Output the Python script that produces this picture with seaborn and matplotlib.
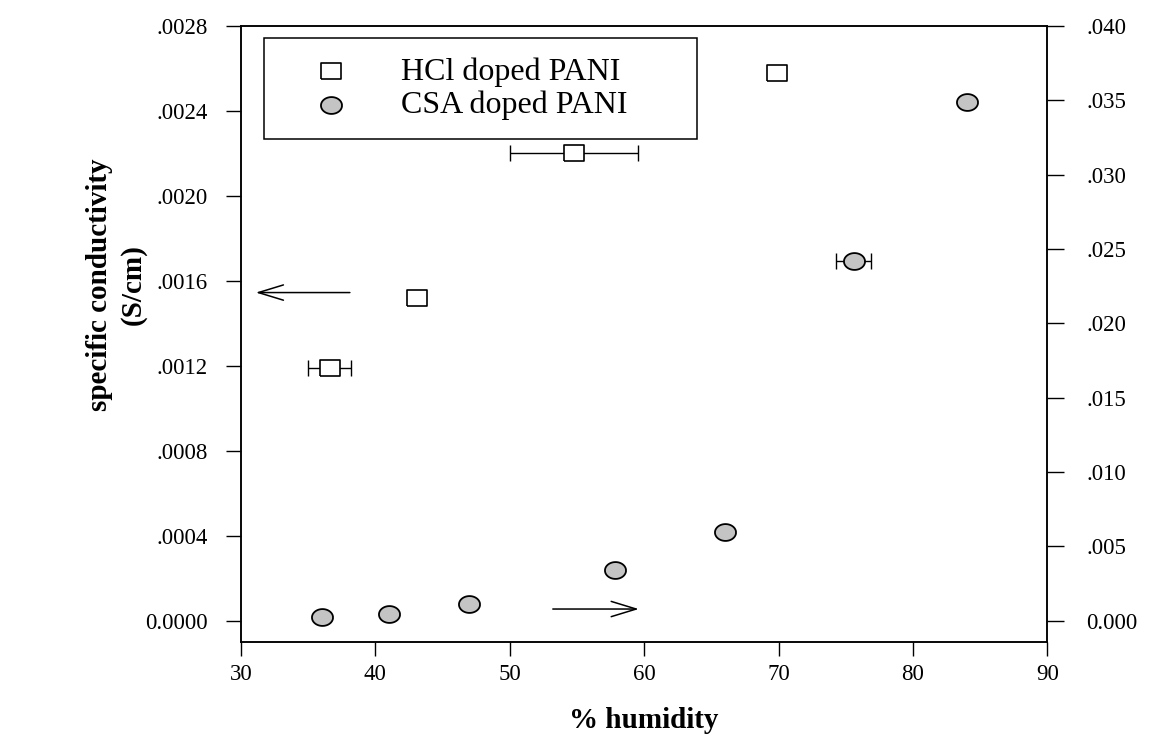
import numpy as np
import matplotlib
matplotlib.use('Agg')
import matplotlib.pyplot as plt
import seaborn as sns

# HCl doped PANI (left axis, S/cm)
hcl_humidity = [36.6, 43.1, 54.8, 69.9]
hcl_cond = [0.00119, 0.00152, 0.00220, 0.00258]
hcl_err = [1.6, 0.0, 4.75, 0.0]

# CSA doped PANI (right axis, S/cm)
csa_humidity = [36.0, 41.0, 47.0, 57.8, 66.0, 75.6, 84.0]
csa_cond = [0.00025, 0.00045, 0.0011, 0.0034, 0.0060, 0.0242, 0.0349]
csa_err = [0.0, 0.0, 0.0, 0.0, 0.0, 1.3, 0.0]

x_ticks = [30, 40, 50, 60, 70, 80, 90]
left_ticks = [0.0, 0.0004, 0.0008, 0.0012, 0.0016, 0.0020, 0.0024, 0.0028]
left_labels = ['0.0000', '.0004', '.0008', '.0012', '.0016', '.0020', '.0024', '.0028']
right_ticks = [0.0, 0.005, 0.010, 0.015, 0.020, 0.025, 0.030, 0.035, 0.040]
right_labels = ['0.000', '.005', '.010', '.015', '.020', '.025', '.030', '.035', '.040']

sns.set_style('ticks')
plt.rcParams['font.family'] = ['Liberation Serif', 'DejaVu Serif']
plt.rcParams['text.color'] = 'black'
plt.rcParams['axes.labelcolor'] = 'black'
plt.rcParams['xtick.color'] = 'black'
plt.rcParams['ytick.color'] = 'black'

# slightly flattened marker shapes, like the scanned figure
t = np.linspace(0, 2 * np.pi, 60)
ellipse = np.column_stack([np.cos(t), 0.8 * np.sin(t)])
rect = np.array([[-1, -0.8], [1, -0.8], [1, 0.8], [-1, 0.8], [-1, -0.8]])

fig = plt.figure(figsize=(11.56, 7.43), dpi=100)
ax = fig.add_axes([0.2085, 0.136, 0.6975, 0.829])
ax2 = ax.twinx()

k = 0.040 / 0.0028
ax.set_xlim(30, 90)
ax.set_ylim(-0.0001, 0.0028)
ax2.set_ylim(-0.0001 * k, 0.0028 * k)

# error bars
m = np.array(hcl_err) > 0
ax.errorbar(np.array(hcl_humidity)[m], np.array(hcl_cond)[m], xerr=np.array(hcl_err)[m],
            fmt='none', ecolor='black', elinewidth=1, capsize=6, capthick=1, zorder=2)
m2 = np.array(csa_err) > 0
ax2.errorbar(np.array(csa_humidity)[m2], np.array(csa_cond)[m2], xerr=np.array(csa_err)[m2],
             fmt='none', ecolor='black', elinewidth=1, capsize=6, capthick=1, zorder=2)

sns.scatterplot(x=hcl_humidity, y=hcl_cond, ax=ax, marker=rect, s=190, color='white',
                edgecolor='black', linewidth=1.2, zorder=3, label='HCl doped PANI', legend=False)
sns.scatterplot(x=csa_humidity, y=csa_cond, ax=ax2, marker=ellipse, s=230, color='#c4c4c4',
                edgecolor='black', linewidth=1.3, zorder=3, label='CSA doped PANI', legend=False)

# arrows pointing to the axes
arr = dict(arrowstyle='->,head_length=1.8,head_width=0.55', color='black', lw=1.1, mutation_scale=10,
           shrinkA=0, shrinkB=0)
ax.annotate('', xy=(31.1, 0.001545), xytext=(38.1, 0.001545), arrowprops=arr)
ax.annotate('', xy=(59.6, 0.000055), xytext=(53.2, 0.000055), arrowprops=arr)

ax.set_xticks(x_ticks)
ax.set_xticklabels([str(t) for t in x_ticks])
ax.set_yticks(left_ticks)
ax.set_yticklabels(left_labels)
ax2.set_yticks(right_ticks)
ax2.set_yticklabels(right_labels)

ax.tick_params(axis='x', direction='out', length=10, width=1, pad=6, labelsize=16.5)
ax.tick_params(axis='y', direction='out', length=11, width=1, pad=13, labelsize=16.5)
ax2.tick_params(axis='y', direction='out', length=12, width=1, pad=16, labelsize=16.5)
for a in (ax, ax2):
    for s in a.spines.values():
        s.set_linewidth(1.1)
        s.set_color('black')
        s.set_visible(True)

ax.set_xlabel('% humidity', fontsize=21, fontweight='bold', labelpad=16)
fig.text(0.101, 1 - 285 / 743, 'specific conductivity\n(S/cm)', rotation=90, ha='center',
         va='center', multialignment='center', fontsize=21, fontweight='bold', linespacing=1.3)

h1, l1 = ax.get_legend_handles_labels()
h2, l2 = ax2.get_legend_handles_labels()
leg = ax2.legend(h1 + h2, l1 + l2, loc='upper left', bbox_to_anchor=(0.0285, 0.826, 0.5375, 0.1545),
                 mode='expand', borderaxespad=0, fancybox=False, edgecolor='black', framealpha=1,
                 fontsize=23, handletextpad=0.7, borderpad=0.6, labelspacing=0.12,
                 handlelength=3.0)
leg.get_frame().set_linewidth(1.1)

fig.savefig('out.png', dpi=100)
